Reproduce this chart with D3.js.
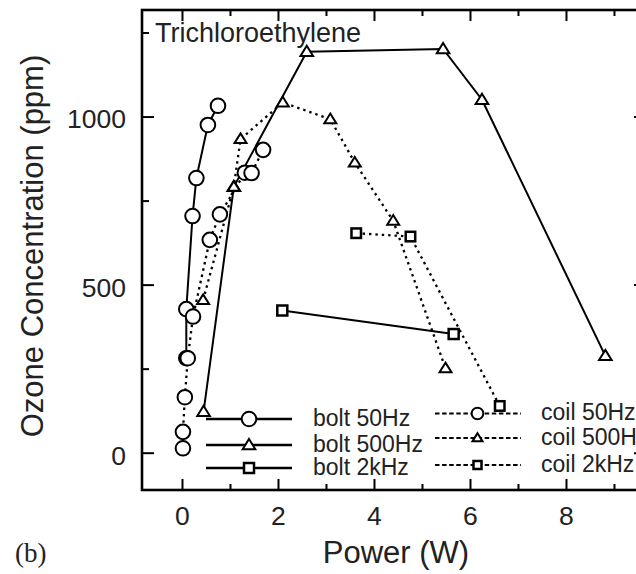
<!DOCTYPE html>
<html>
<head>
<meta charset="utf-8">
<script src="https://cdn.jsdelivr.net/npm/d3@7"></script>
<style>
  html, body { margin: 0; padding: 0; background: #fff; }
  svg { display: block; font-family: "Liberation Sans", Arial, Helvetica, sans-serif; }
</style>
</head>
<body>
<svg id="chart" width="636" height="574"></svg>
<script>
// ---- data (Power in W, Ozone in ppm) ----
const bolt50Power  = [0.09, 0.09, 0.22, 0.30, 0.54, 0.75];
const bolt50Ozone  = [281, 427, 704, 817, 975, 1032];
const bolt500Power = [0.45, 1.08, 2.60, 5.44, 6.25, 8.82];
const bolt500Ozone = [122, 791, 1193, 1201, 1050, 288];
const bolt2kPower  = [2.09, 5.66];
const bolt2kOzone  = [423, 353];
const coil50Power  = [0.02, 0.02, 0.06, 0.12, 0.23, 0.58, 0.79, 1.31, 1.45, 1.69];
const coil50Ozone  = [13, 62, 165, 281, 405, 633, 709, 833, 832, 901];
const coil500Power = [0.44, 1.08, 1.22, 2.10, 3.09, 3.60, 4.40, 5.49];
const coil500Ozone = [454, 791, 933, 1042, 992, 863, 690, 251];
const coil2kPower  = [3.63, 4.76, 6.62];
const coil2kOzone  = [653, 643, 139];

const xMajorTicks = [0, 2, 4, 6, 8];
const xMinorTicks = [1, 3, 5, 7, 9];
const yMajorTicks = [0, 500, 1000];
const yMinorTicks = [250, 750, 1250];

const seriesNames = ["bolt 50Hz", "bolt 500Hz", "bolt 2kHz", "coil 50Hz", "coil 500Hz", "coil 2kHz"];
const seriesMarkers = ["circle", "triangle", "square", "circle", "triangle", "square"];
const seriesDotted = [false, false, false, true, true, true];
const seriesPower = [bolt50Power, bolt500Power, bolt2kPower, coil50Power, coil500Power, coil2kPower];
const seriesOzone = [bolt50Ozone, bolt500Ozone, bolt2kOzone, coil50Ozone, coil500Ozone, coil2kOzone];

const series = seriesNames.map((name, i) => ({
  name, marker: seriesMarkers[i], dotted: seriesDotted[i],
  points: seriesPower[i].map((p, j) => ({ x: p, y: seriesOzone[i][j] }))
}));

// ---- layout ----
const L = 142, R = 646, T = 10, B = 490;
const x = d3.scaleLinear().domain([-0.833, 9.667]).range([L, R]);
const y = d3.scaleLinear().domain([-111, 1317]).range([B, T]);

const svg = d3.select("#chart");

function drawMarker(g, type, cx, cy, scale) {
  const k = scale || 1;
  if (type === "circle") {
    g.append("circle").attr("cx", cx).attr("cy", cy).attr("r", 7.3 * k)
      .attr("fill", "#fff").attr("stroke", "#000").attr("stroke-width", 2);
  } else if (type === "triangle") {
    const w = 6.3 * k, h1 = 6 * k, h2 = 4.2 * k;
    g.append("path")
      .attr("d", `M${cx},${cy - h1}L${cx + w},${cy + h2}L${cx - w},${cy + h2}Z`)
      .attr("fill", "#fff").attr("stroke", "#000").attr("stroke-width", 2)
      .attr("stroke-linejoin", "miter");
  } else {
    const s = 5 * k;
    g.append("rect").attr("x", cx - s).attr("y", cy - s).attr("width", 2 * s).attr("height", 2 * s)
      .attr("fill", "#fff").attr("stroke", "#000").attr("stroke-width", 2.5);
  }
}

// ---- axes (ticks pointing inward) ----
function styleAxis(g) {
  g.select(".domain").remove();
  g.selectAll(".tick line").attr("stroke", "#000").attr("stroke-width", 2);
}
const tickFont = 26.5;

svg.append("g").attr("transform", `translate(0,${B})`)
  .call(d3.axisBottom(x).tickValues(xMajorTicks).tickSize(-11).tickFormat(d3.format("d")))
  .call(styleAxis)
  .call(g => g.selectAll("text").attr("y", 35).attr("dy", 0)
    .attr("font-size", tickFont).attr("fill", "#222").attr("font-family", "Liberation Sans, Arial, sans-serif"));
svg.append("g").attr("transform", `translate(0,${B})`)
  .call(d3.axisBottom(x).tickValues(xMinorTicks).tickSize(-6).tickFormat(""))
  .call(styleAxis);
svg.append("g").attr("transform", `translate(0,${T})`)
  .call(d3.axisTop(x).tickValues(xMajorTicks).tickSize(-11).tickFormat(""))
  .call(styleAxis);
svg.append("g").attr("transform", `translate(0,${T})`)
  .call(d3.axisTop(x).tickValues(xMinorTicks).tickSize(-6).tickFormat(""))
  .call(styleAxis);

svg.append("g").attr("transform", `translate(${L},0)`)
  .call(d3.axisLeft(y).tickValues(yMajorTicks).tickSize(-12).tickFormat(d3.format("d")))
  .call(styleAxis)
  .call(g => g.selectAll("text").attr("x", -16).attr("dy", "0.43em")
    .attr("font-size", tickFont).attr("fill", "#222").attr("font-family", "Liberation Sans, Arial, sans-serif"));
svg.append("g").attr("transform", `translate(${L},0)`)
  .call(d3.axisLeft(y).tickValues(yMinorTicks).tickSize(-7).tickFormat(""))
  .call(styleAxis);
svg.append("g").attr("transform", `translate(${R},0)`)
  .call(d3.axisRight(y).tickValues(yMajorTicks).tickSize(-12).tickFormat(""))
  .call(styleAxis);
svg.append("g").attr("transform", `translate(${R},0)`)
  .call(d3.axisRight(y).tickValues(yMinorTicks).tickSize(-7).tickFormat(""))
  .call(styleAxis);

// frame
svg.append("rect").attr("x", L).attr("y", T).attr("width", R - L).attr("height", B - T)
  .attr("fill", "none").attr("stroke", "#000").attr("stroke-width", 2.6);

// axis titles
svg.append("text").attr("x", 396).attr("y", 563).attr("text-anchor", "middle")
  .attr("font-size", 31).attr("fill", "#222").text("Power (W)");
svg.append("text").attr("transform", "translate(43,246) rotate(-90)").attr("text-anchor", "middle")
  .attr("font-size", 31).attr("fill", "#222").text("Ozone Concentration (ppm)");

svg.append("text").attr("x", 155).attr("y", 42).attr("font-size", 27).attr("fill", "#222")
  .text("Trichloroethylene");
svg.append("text").attr("x", 15).attr("y", 562).attr("font-size", 27)
  .attr("font-family", "Liberation Serif, Times New Roman, serif").attr("fill", "#222").text("(b)");

// ---- data lines ----
const line = d3.line().x(d => x(d.x)).y(d => y(d.y));
const dataG = svg.append("g");
series.forEach(s => {
  dataG.append("path").attr("d", line(s.points)).attr("fill", "none")
    .attr("stroke", "#000").attr("stroke-width", s.dotted ? 2.3 : 2)
    .attr("stroke-dasharray", s.dotted ? "2.4,4" : null);
});

// ---- legend ----
const legendG = svg.append("g");
const boltLegendY = [419, 445, 468];
const coilLegendY = [413.5, 438, 465];
series.forEach((s, i) => {
  const isCoil = s.dotted;
  const ly = isCoil ? coilLegendY[i - 3] : boltLegendY[i];
  const x0 = isCoil ? 435 : 206, x1 = isCoil ? 521 : 292, mx = isCoil ? 477.5 : 249;
  legendG.append("line").attr("x1", x0).attr("x2", x1).attr("y1", ly).attr("y2", ly)
    .attr("stroke", "#000").attr("stroke-width", isCoil ? 2.2 : 2.6)
    .attr("stroke-dasharray", isCoil ? "4.5,2.6" : null);
  drawMarker(legendG, s.marker, mx, ly, isCoil ? 0.8 : 1);
  legendG.append("text").attr("x", isCoil ? 541 : 313).attr("y", ly + 6.5)
    .attr("font-size", 23).attr("fill", "#222").text(s.name);
});

// ---- markers ----
const markG = svg.append("g");
series.forEach(s => {
  s.points.forEach(p => drawMarker(markG, s.marker, x(p.x), y(p.y), s.dotted && s.marker !== "circle" ? 0.95 : 1));
});
</script>
</body>
</html>
